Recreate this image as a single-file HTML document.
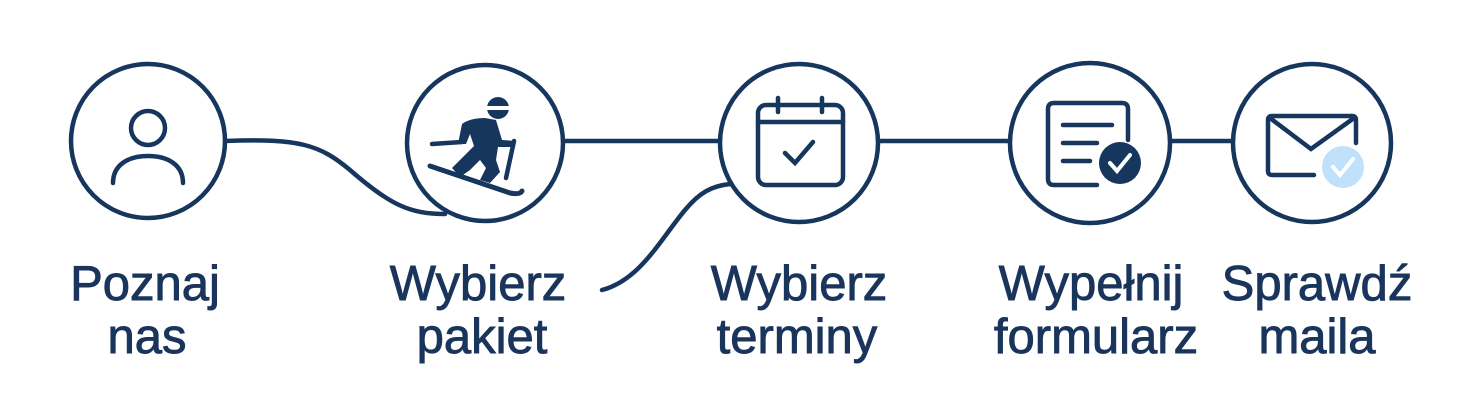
<!DOCTYPE html>
<html><head><meta charset="utf-8"><style>
body{margin:0;background:#fff;width:1483px;height:407px;overflow:hidden}
svg{display:block}
text{font-family:"Liberation Sans",sans-serif;font-size:49px;fill:#1a355c;stroke:#1a355c;stroke-width:0.9px;text-anchor:middle}
</style></head><body>
<svg width="1483" height="407" viewBox="0 0 1483 407" xmlns="http://www.w3.org/2000/svg">
<g fill="none" stroke="#16365e" stroke-width="4.5" stroke-linecap="round">
<path d="M225 141 C300 138 320 145 350 170 C390 205 410 214 445 214"/>
<line x1="563" y1="141" x2="720" y2="141"/>
<line x1="878" y1="141" x2="1008" y2="141"/>
<line x1="1172" y1="141" x2="1232" y2="141"/>
<path d="M602 290 C640 280 660 240 685 210 C700 192 712 186 730 184"/>
<circle cx="148" cy="141" r="77" fill="#fff"/>
<circle cx="485" cy="143" r="78" fill="#fff"/>
<circle cx="799" cy="143" r="79" fill="#fff"/>
<circle cx="1090" cy="143" r="80" fill="#fff"/>
<circle cx="1312" cy="143" r="79" fill="#fff"/>
<circle cx="148" cy="128" r="17"/>
<path d="M113 183 C113 165 128 156 148 156 C168 156 183 165 183 183"/>
<rect x="758" y="105" width="85" height="80" rx="8"/>
<line x1="758" y1="122" x2="843" y2="122"/>
<line x1="778" y1="98" x2="778" y2="112"/>
<line x1="822" y1="98" x2="822" y2="112"/>
<path d="M785 153 L795 163 L813 142"/>
<path d="M1097 185 L1054 185 Q1048 185 1048 179 L1048 109 Q1048 103 1054 103 L1122 103 Q1128 103 1128 109 L1128 140"/>
<line x1="1063" y1="125" x2="1112" y2="125"/>
<line x1="1063" y1="143" x2="1097" y2="143"/>
<line x1="1063" y1="161" x2="1090" y2="161"/>
<path d="M1314 175 L1272 175 Q1268 175 1268 171 L1268 120 Q1268 116 1272 116 L1352 116 Q1356 116 1356 120 L1356 143"/>
<path d="M1270 118 L1311 149 L1354 118"/>
<line x1="432" y1="144" x2="462" y2="142"/>
<line x1="514" y1="141" x2="506" y2="178"/>
<path d="M430 166 L510 193 Q520 195 522 191" stroke-width="5"/>
</g>
<circle cx="1120" cy="163" r="21" fill="#16365e"/>
<path d="M1110 163 L1117 171 L1130 155" fill="none" stroke="#fff" stroke-width="4" stroke-linecap="round"/>
<circle cx="1343" cy="167" r="21" fill="#bfe1fb"/>
<path d="M1333 167 L1340 175 L1353 159" fill="none" stroke="#fff" stroke-width="4" stroke-linecap="round"/>
<g fill="#16365e">
<circle cx="498" cy="108" r="11"/>
<rect x="486" y="106" width="24" height="4" fill="#fff"/>
<path d="M462 124 Q470 118 485 118 L496 120 L502 140 L516 141 L515 147 L498 147 L496 160 L500 172 L490 183 L480 180 L486 168 L480 160 L470 170 L460 177 L452 168 L466 154 L474 146 L470 134 L466 144 L458 144 Z"/>
</g>
<text x="145" y="300">Poznaj</text>
<text x="147" y="353">nas</text>
<text x="478" y="300">Wybierz</text>
<text x="482" y="353">pakiet</text>
<text x="799" y="300">Wybierz</text>
<text x="797" y="353">terminy</text>
<text x="1091" y="300">Wypełnij</text>
<text x="1096" y="353">formularz</text>
<text x="1317" y="300">Sprawdź</text>
<text x="1317" y="353">maila</text>
</svg>
</body></html>
